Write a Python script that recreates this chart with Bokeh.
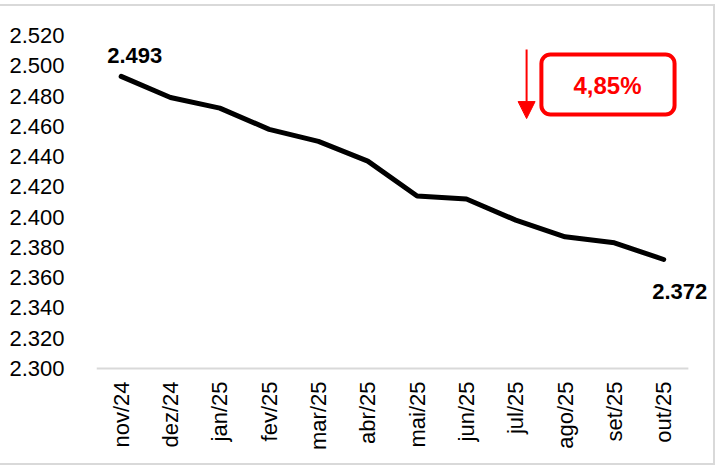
import math
from bokeh.plotting import figure
from bokeh.models import (Range1d, NumeralTickFormatter, FixedTicker,
                          Label, BoxAnnotation, Arrow, NormalHead)
from bokeh.embed import file_html
from bokeh.resources import INLINE

months = ["nov/24", "dez/24", "jan/25", "fev/25", "mar/25", "abr/25",
          "mai/25", "jun/25", "jul/25", "ago/25", "set/25", "out/25"]
values = [2.493, 2.479, 2.472, 2.458, 2.450, 2.437,
          2.414, 2.412, 2.398, 2.387, 2.383, 2.372]
y_min, y_max, y_step = 2.300, 2.520, 0.020
y_ticks = [round(y_min + i * y_step, 3) for i in range(12)]
change_label = "4,85%"

FONT = "Liberation Sans"
xs = list(range(len(months)))

p = figure(width=715, height=461, x_range=Range1d(-0.5, 12.05),
           y_range=Range1d(y_min - 0.002, y_max), output_backend="svg",
           toolbar_location=None, min_border_left=96, min_border_right=0,
           min_border_top=29, min_border_bottom=96)
p.styles = {"margin-top": "4px", "border-top": "2px solid #d9d9d9",
            "border-right": "2px solid #d9d9d9", "border-bottom": "2px solid #d9d9d9"}
p.outline_line_color = None
p.xgrid.grid_line_color = None
p.ygrid.grid_line_color = None

# category baseline (x axis line)
p.segment(x0=[xs[0] - 0.5], y0=[y_min], x1=[xs[-1] + 0.5], y1=[y_min],
          line_color="#d9d9d9", line_width=2)

p.line(xs, values, line_color="black", line_width=5,
       line_join="round", line_cap="round")

# axes
p.yaxis.ticker = FixedTicker(ticks=y_ticks)
p.yaxis.formatter = NumeralTickFormatter(format="0.000")
p.yaxis.axis_line_color = None
p.yaxis.major_tick_line_color = None
p.yaxis.minor_tick_line_color = None
p.yaxis.major_label_standoff = 26
p.yaxis.major_label_text_font = FONT
p.yaxis.major_label_text_font_size = "22px"
p.yaxis.major_label_text_color = "black"

p.xaxis.ticker = FixedTicker(ticks=xs)
p.xaxis.major_label_overrides = {i: m for i, m in zip(xs, months)}
p.xaxis.axis_line_color = None
p.xaxis.major_tick_line_color = None
p.xaxis.minor_tick_line_color = None
p.xaxis.major_label_orientation = math.pi / 2
p.xaxis.major_label_standoff = 4
p.xaxis.major_label_text_font = FONT
p.xaxis.major_label_text_font_size = "22px"
p.xaxis.major_label_text_color = "black"

# data labels for first and last point
fmt = lambda v: f"{v:.3f}"
p.add_layout(Label(x=xs[0], y=values[0], text=fmt(values[0]), x_offset=-14, y_offset=21,
                   text_align="left", text_baseline="alphabetic", text_font=FONT,
                   text_font_style="bold", text_font_size="22px", text_color="black"))
p.add_layout(Label(x=xs[-1], y=values[-1], text=fmt(values[-1]), x_offset=16,
                   y_offset=-32, text_align="center", text_baseline="alphabetic",
                   text_font=FONT, text_font_style="bold", text_font_size="22px",
                   text_color="black"))

# red arrow + boxed change label
p.add_layout(Arrow(x_start=8.22, y_start=2.5107, x_end=8.22, y_end=2.4651,
                   line_color="red", line_width=2,
                   end=NormalHead(size=17, fill_color="red", line_color="red")))
p.add_layout(BoxAnnotation(left=8.52, right=11.22, top=2.5074, bottom=2.4678,
                           fill_alpha=0, line_color="red", line_alpha=1, line_width=4,
                           border_radius=9))
p.add_layout(Label(x=9.86, y=2.487, text=change_label, text_align="center",
                   text_baseline="middle", text_font=FONT, text_font_style="bold",
                   text_font_size="24px", text_color="red"))

open("out.html", "w").write(file_html(p, INLINE))
